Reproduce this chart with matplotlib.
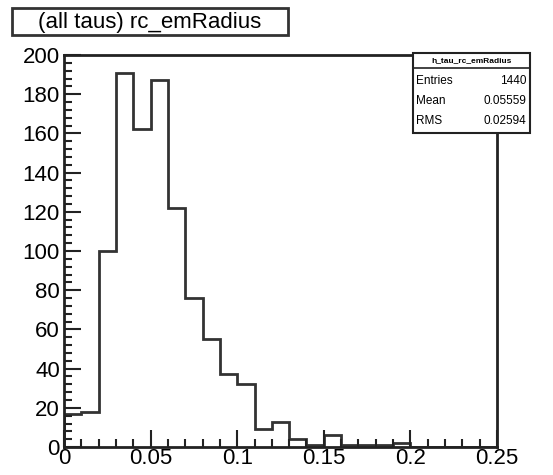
import numpy as np
import matplotlib.pyplot as plt
from matplotlib.ticker import MultipleLocator
from matplotlib.patches import Rectangle

plt.rcParams['font.family'] = ['Liberation Sans', 'DejaVu Sans']

# histogram contents, 25 bins of width 0.01 from 0 to 0.25
bin_edges = np.linspace(0, 0.25, 26)
counts = [17, 18, 100, 191, 162, 187, 122, 76, 55, 37, 32, 9, 13, 4, 1, 6,
          1, 1, 1, 2, 0, 0, 0, 0, 0]

hist_name = 'h_tau_rc_emRadius'
stat_names = ['Entries', 'Mean', 'RMS']
stat_values = ['1440', '0.05559', '0.02594']
title = '(all taus) rc_emRadius'

fig = plt.figure(figsize=(5.53, 4.75), dpi=100)
ax = fig.add_axes([0.1157, 0.0589, 0.7830, 0.8253])

ax.stairs(counts, bin_edges, color='#333333', linewidth=2)

ax.set_xlim(0, 0.25)
ax.set_ylim(0, 200)
ax.xaxis.set_major_locator(MultipleLocator(0.05))
ax.xaxis.set_minor_locator(MultipleLocator(0.01))
ax.yaxis.set_major_locator(MultipleLocator(20))
ax.yaxis.set_minor_locator(MultipleLocator(4))
ax.set_xticks([0, 0.05, 0.1, 0.15, 0.2, 0.25])
ax.set_xticklabels(['0', '0.05', '0.1', '0.15', '0.2', '0.25'])
ax.tick_params(which='both', direction='in', top=False, right=False,
               labelsize=16, width=1.5, color='#222222')
ax.tick_params(which='major', length=12)
ax.tick_params(axis='x', which='major', pad=1)
ax.tick_params(axis='y', which='major', pad=3)
ax.tick_params(which='minor', length=6)
for s in ax.spines.values():
    s.set_linewidth(2)
    s.set_color('#222222')

# title box
fig.patches.append(Rectangle((0.022, 0.926), 0.499, 0.057, transform=fig.transFigure,
                             fc='white', ec='#333333', lw=2))
fig.text(0.271, 0.953, title, ha='center', va='center', fontsize=16)

# stats box
bx0, bx1 = 413 / 553, 530 / 553
by_top, by_hdr, by_bot = 1 - 53 / 475, 1 - 68 / 475, 1 - 133 / 475
fig.patches.append(Rectangle((bx0, by_bot), bx1 - bx0, by_top - by_bot,
                             transform=fig.transFigure, fc='white', ec='#222222',
                             lw=1.5, zorder=5))
fig.lines.append(plt.Line2D([bx0, bx1], [by_hdr, by_hdr], transform=fig.transFigure,
                            color='#222222', lw=1.2, zorder=6))
fig.text((bx0 + bx1) / 2, (by_top + by_hdr) / 2, hist_name, ha='center',
         va='center', fontsize=6, fontweight='bold', zorder=7)
row_y = [1 - 81 / 475, 1 - 101 / 475, 1 - 121 / 475]
for name, val, y in zip(stat_names, stat_values, row_y):
    fig.text(bx0 + 0.006, y, name, ha='left', va='center', fontsize=8.5, zorder=7)
    fig.text(bx1 - 0.006, y, val, ha='right', va='center', fontsize=8.5, zorder=7)

fig.savefig('out.png', dpi=100)
